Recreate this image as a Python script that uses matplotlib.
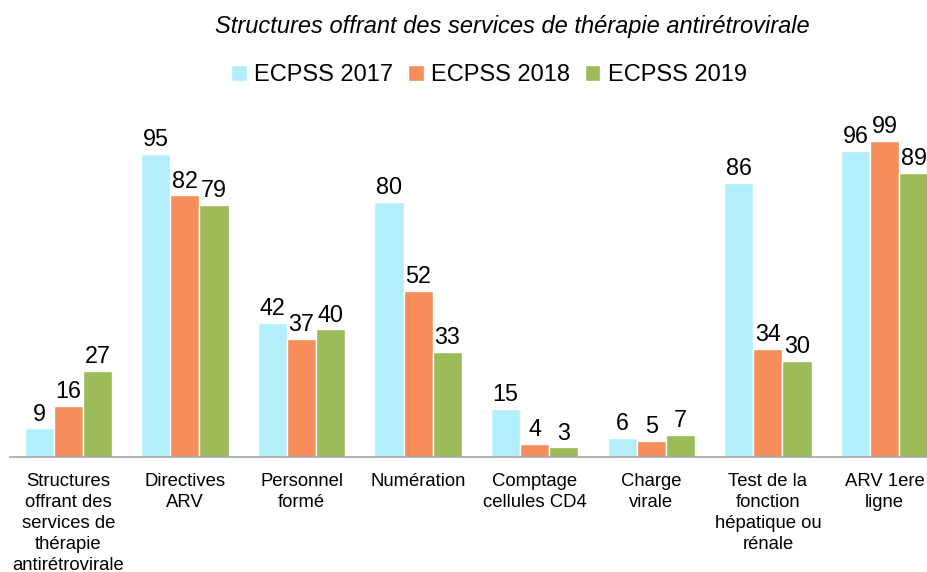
import matplotlib
matplotlib.use("Agg")
import matplotlib.pyplot as plt
import numpy as np

plt.rcParams['font.family'] = ['Liberation Sans', 'DejaVu Sans']

categories = ["Structures\noffrant des\nservices de\nthérapie\nantirétrovirale",
              "Directives\nARV", "Personnel\nformé", "Numération",
              "Comptage\ncellules CD4", "Charge\nvirale",
              "Test de la\nfonction\nhépatique ou\nrénale", "ARV 1ere\nligne"]
series_names = ["ECPSS 2017", "ECPSS 2018", "ECPSS 2019"]
v2017 = [9, 95, 42, 80, 15, 6, 86, 96]
v2018 = [16, 82, 37, 52, 4, 5, 34, 99]
v2019 = [27, 79, 40, 33, 3, 7, 30, 89]
colors = ["#B3EEFB", "#F68D5A", "#9BBB59"]

W, H = 928, 572
fig = plt.figure(figsize=(W/100, H/100), dpi=100)
ax = fig.add_axes([10/W, 1-457/H, 918/W, 351/H])

x = np.arange(len(categories))
bw = 0.25
for i, (vals, name, c) in enumerate(zip([v2017, v2018, v2019], series_names, colors)):
    bars = ax.bar(x + (i-1)*bw, vals, bw, color=c, edgecolor="white", linewidth=1, label=name)
    for b, v in zip(bars, vals):
        ax.annotate(str(v), (b.get_x()+b.get_width()/2, v), xytext=(0, 2),
                    textcoords="offset points", ha="center", va="bottom",
                    fontsize=16.8, color="black")

ax.set_xlim(-0.5, -0.5 + 918/116.6)
ax.set_ylim(0, 110)
ax.set_yticks([])
ax.set_xticks(x)
ax.set_xticklabels(categories, fontsize=13.3, linespacing=1.30, va="top")
ax.tick_params(axis="x", length=0, pad=11.5)
for s in ["top", "right", "left"]:
    ax.spines[s].set_visible(False)
ax.spines["bottom"].set_color("#A6A6A6")
ax.spines["bottom"].set_linewidth(1.2)

fig.text(512/W, 1-27/H, "Structures offrant des services de thérapie antirétrovirale",
         ha="center", va="center", fontsize=17, style="italic")
fig.legend(loc="center", bbox_to_anchor=(489/W, 1-75/H), ncol=3, frameon=False,
           fontsize=17, handlelength=0.65, handleheight=0.65, handletextpad=0.3,
           columnspacing=0.65)

fig.savefig("out.png", dpi=100)
